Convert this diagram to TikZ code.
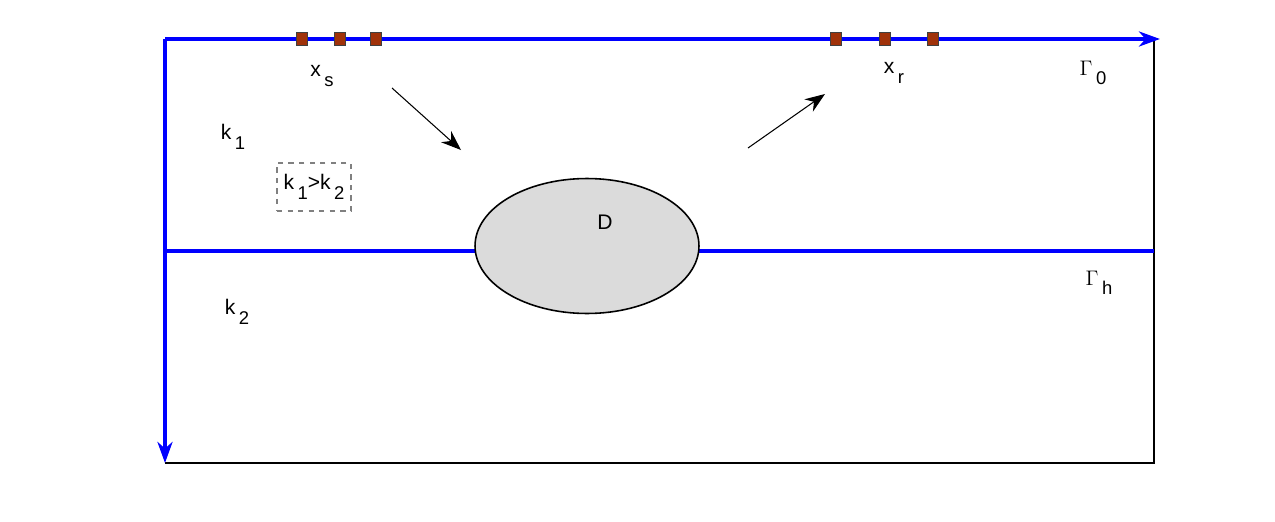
\documentclass[tikz,border=0pt]{standalone}
\usepackage{fontspec}
\setmainfont{Liberation Sans}
\usetikzlibrary{arrows.meta,positioning,shapes.geometric}
\definecolor{bndblue}{RGB}{0,0,255}
\definecolor{sensorfill}{RGB}{160,50,10}
% lowered index, as in the plot labels
\newcommand{\lowidx}[1]{\,\raisebox{-0.85ex}{\fontsize{10.5}{12}\selectfont #1}}

\begin{document}
\begin{tikzpicture}[x=0.02cm,y=-0.02cm,
  bnd/.style={draw=bndblue,line width=2.3pt},
  bndarrow/.style={bnd,-{Stealth[length=0.42cm,width=0.3cm,inset=0.13cm]}},
  ray/.style={line width=0.6pt,-{Stealth[length=0.4cm,width=0.3cm,inset=0.13cm]}},
  sensorbox/.style={draw=black!75,fill=sensorfill,line width=0.5pt,
    minimum width=0.22cm,minimum height=0.26cm,inner sep=0pt},
  lbl/.style={font=\fontsize{12}{14}\selectfont,inner sep=1pt}]
\useasboundingbox (0,0) rectangle (1275,521);
% corners of the domain
\coordinate (O) at (165,39);
\coordinate (topend) at (1160,39);
\coordinate (botend) at (165,463);
\coordinate (TR) at (1154,39);
\coordinate (BR) at (1154,463);
\coordinate (hL) at (165,251);
\coordinate (hR) at (1154,251);
% thin frame
\draw[line width=0.6pt] (botend) -- (BR) -- (TR);
% interface Gamma_h
\draw[bnd] (hL) -- (hR);
% obstacle
\node[ellipse,draw,line width=0.9pt,fill=gray!28,minimum width=4.48cm,minimum height=2.7cm,inner sep=0pt] (D) at (587,246) {};
\node[lbl] (Dlab) at (605,222) {D};
% surface Gamma_0 and depth axis
\draw[bndarrow] (O) -- (topend);
\draw[bndarrow] (O) -- (botend);
% sources and receivers
\foreach \n/\xx in {1/302,2/340,3/376}
  \node[sensorbox] (s\n) at (\xx,39) {};
\foreach \n/\xx in {1/836,2/885,3/933}
  \node[sensorbox] (r\n) at (\xx,39) {};
% labels
\node[lbl] (xs) at (322,76) {x\lowidx{s}};
\node[lbl] (xr) at (894,73) {x\lowidx{r}};
\node[lbl] (G0) at (1093,73) {$\Gamma$\lowidx{0}};
\node[lbl] (Gh) at (1099,283) {$\Gamma$\lowidx{h}};
\node[lbl] (k1) at (233,137) {k\lowidx{1}};
\node[lbl] (k2) at (237,312) {k\lowidx{2}};
\node[lbl,draw=gray,dashed,line width=0.6pt,minimum width=1.48cm,minimum height=0.96cm] (kk) at (314,187) {k\lowidx{1}>k\lowidx{2}};
% incident and scattered waves
\coordinate (inA) at (392,88);
\coordinate (inB) at (461,150);
\coordinate (outA) at (748,148);
\coordinate (outB) at (825,94);
\draw[ray] (inA) -- (inB);
\draw[ray] (outA) -- (outB);
\end{tikzpicture}
\end{document}
